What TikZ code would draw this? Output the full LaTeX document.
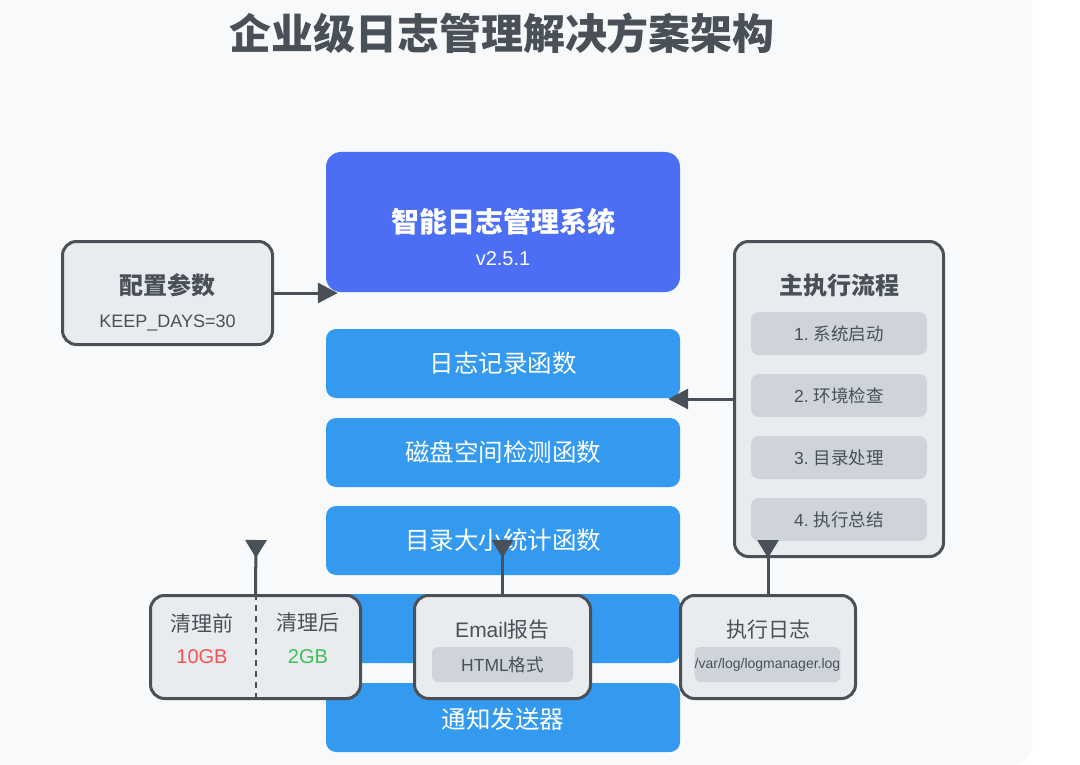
\documentclass[tikz,border=0pt]{standalone}
\usepackage{fontspec}
\setmainfont{Noto Sans CJK SC}
\newfontfamily\lat{Liberation Sans}
\usetikzlibrary{arrows.meta}
\definecolor{ink}{HTML}{495057}
\definecolor{bgc}{HTML}{F8F9FA}
\definecolor{cardc}{HTML}{E9ECEF}
\definecolor{tagc}{HTML}{CED4DA}
\definecolor{mainc}{HTML}{4C6EF5}
\definecolor{funcc}{HTML}{339AF0}
\definecolor{redc}{HTML}{FA5252}
\definecolor{greenc}{HTML}{40C057}
\newcommand{\fsz}[1]{\fontsize{#1}{#1}\selectfont}
\begin{document}
\begin{tikzpicture}[x=1pt, y=-1pt, line join=round,
		card/.style={draw=ink, line width=3pt, fill=cardc, rounded corners=14pt, inner sep=0pt},
		func/.style={fill=funcc, rounded corners=10pt, minimum width=354pt, minimum height=69pt, inner sep=0pt, text=white, font=\fsz{24.5}},
		stepbox/.style={fill=tagc, rounded corners=8pt, minimum width=176pt, minimum height=43pt, inner sep=0pt, text=ink, font=\fsz{17.5}},
		tagbox/.style={fill=tagc, rounded corners=6pt, minimum width=141pt, minimum height=35pt, inner sep=0pt, text=ink},
		lbl/.style={text=ink, inner sep=0pt},
		conn/.style={draw=ink, line width=3pt, -{Triangle[length=20pt, width=20pt]}, shorten >=-12pt},
		upconn/.style={draw=ink, line width=3pt, {Triangle[reversed, length=18pt, width=21pt]}-}]
	\useasboundingbox (0,0) rectangle (1080,765);
	\fill[white] (0,0) rectangle (1080,765);
	\fill[bgc, rounded corners=20pt] (-40,-40) rectangle (1032,765);
	
	\node[text=ink, font=\bfseries\fsz{42}] (title) at (502,33) {企业级日志管理解决方案架构};
	
	\node[fill=mainc, rounded corners=15pt, minimum width=354pt, minimum height=140pt] (main) at (503,222) {};
	\node[text=white, font=\bfseries\fsz{28}] at (503,222) {智能日志管理系统};
	\node[text=white, font=\lat\fsz{20}] at (503,259) {v2.5.1};
	
	\node[func] (f1) at (503,363.5) {日志记录函数};
	\node[func] (f2) at (503,452.5) {磁盘空间检测函数};
	\node[func] (f3) at (503,540.5) {目录大小统计函数};
	\node[func] (f4) at (503,628.5) {};
	\node[func] (f5) at (503,717.5) {};
	\node[text=white, font=\fsz{24.5}] at (503,719) {通知发送器};
	
	\node[card, minimum width=210pt, minimum height=103pt] (cfg) at (167.5,293) {};
	\node[lbl, font=\bfseries\fsz{24}] at (167.5,285) {配置参数};
	\node[lbl, font=\lat\fsz{18}] at (167.5,323) {KEEP\_DAYS=30};
	
	\node[card, minimum width=209pt, minimum height=315pt] (flow) at (839,399) {};
	\node[lbl, font=\bfseries\fsz{24}] at (839,285) {主执行流程};
	\node[stepbox] (s1) at (839,333.5) {{\lat 1.} 系统启动};
	\node[stepbox] (s2) at (839,395.5) {{\lat 2.} 环境检查};
	\node[stepbox] (s3) at (839,457.5) {{\lat 3.} 目录处理};
	\node[stepbox] (s4) at (839,519.5) {{\lat 4.} 执行总结};
	
	\node[card, minimum width=210pt, minimum height=103pt] (cmp) at (255.5,647) {};
	\draw[ink, line width=2pt, dash pattern=on 6pt off 5pt] (cmp.north) -- (cmp.south);
	\node[lbl, font=\fsz{21}] at (202,623) {清理前};
	\node[text=redc, inner sep=0pt, font=\lat\fsz{20}] at (202,657) {10GB};
	\node[lbl, font=\fsz{21}] at (308,623) {清理后};
	\node[text=greenc, inner sep=0pt, font=\lat\fsz{20}] at (308,657) {2GB};
	
	\node[card, minimum width=176pt, minimum height=103pt] (mail) at (502.5,647) {};
	\node[lbl, font=\fsz{21}] at (502.5,630) {{\lat Email}报告};
	\node[tagbox, font=\fsz{17.5}] (html) at (502.5,664.5) {{\lat HTML}格式};
	
	\node[card, minimum width=175pt, minimum height=103pt] (log) at (768,647) {};
	\node[lbl, font=\fsz{21}] at (768,630) {执行日志};
	\node[tagbox, font=\lat\fsz{14}] (path) at (767.5,664.5) {/var/log/logmanager.log};
	
	\coordinate (cmptop) at (256,540);
	\coordinate (mailtop) at (502.5,540);
	\coordinate (logtop) at (768,540);
	
	\draw[conn] (cfg.east) -- (cfg.east -| main.west);
	\draw[conn] (flow.west) -- (flow.west -| f1.east);
	\draw[upconn] (cmptop) -- (cmp.north);
	\draw[upconn] (mailtop) -- (mail.north);
	\draw[upconn] (logtop) -- (log.north);
\end{tikzpicture}
\end{document}
